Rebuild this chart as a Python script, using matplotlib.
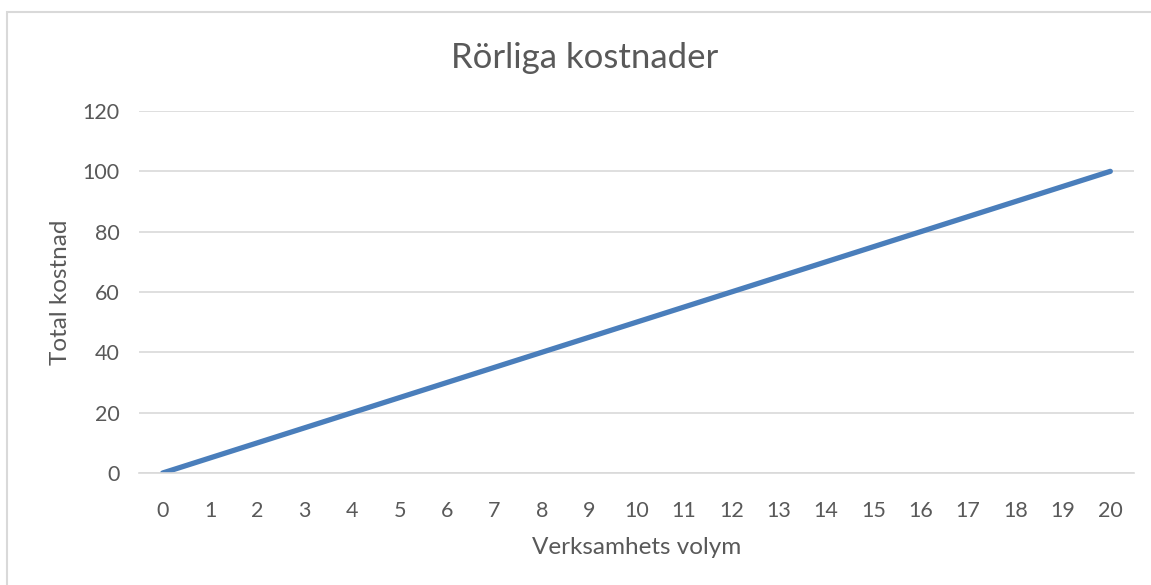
#!/usr/bin/env python3

import matplotlib
matplotlib.use("Agg")
import matplotlib.pyplot as plt
from matplotlib.patches import Rectangle

volym = list(range(0, 21))
kostnad = [0, 5, 10, 15, 20, 25, 30, 35, 40, 45, 50,
           55, 60, 65, 70, 75, 80, 85, 90, 95, 100]
yticks = [0, 20, 40, 60, 80, 100, 120]

textcolor = "#595959"
plt.rcParams['font.family'] = ['Lato', 'DejaVu Sans']

fig = plt.figure(figsize=(11.51, 5.85), dpi=100)
ax = fig.add_axes([139 / 1151, 1 - 473 / 585, (1134 - 139) / 1151, (473 - 111) / 585])

# chart frame (right and bottom edges run off the image)
fig.patches.append(Rectangle((7 / 1151, -0.1), 1.2, 1 - 12 / 585 + 0.1,
                             transform=fig.transFigure, fill=False,
                             edgecolor="#d9d9d9", linewidth=1.5))

ax.plot(volym, kostnad, color="#4a7ebb", linewidth=3.8, solid_capstyle="round")

ax.set_xlim(-0.5, 20.5)
ax.set_ylim(0, 120)
ax.set_xticks(volym)
ax.set_xticklabels([str(v) for v in volym])
ax.set_yticks(yticks)
ax.grid(axis='y', color="#d9d9d9", linewidth=1.2)
ax.set_axisbelow(True)
for s in ['top', 'right', 'left']:
    ax.spines[s].set_visible(False)
ax.spines['bottom'].set_color("#d9d9d9")
ax.spines['bottom'].set_linewidth(1.2)
ax.tick_params(length=0, labelsize=15.5, colors=textcolor)
ax.tick_params(axis='x', pad=20)
ax.tick_params(axis='y', pad=14)

fig.text(585 / 1151, 1 - 58 / 585, "Rörliga kostnader", fontsize=25,
         color=textcolor, ha='center', va='center')
ax.set_xlabel("Verksamhets volym", fontsize=17.5, color=textcolor, labelpad=12)
ax.set_ylabel("Total kostnad", fontsize=17.5, color=textcolor, labelpad=8)

plt.savefig("out.png", dpi=100)
